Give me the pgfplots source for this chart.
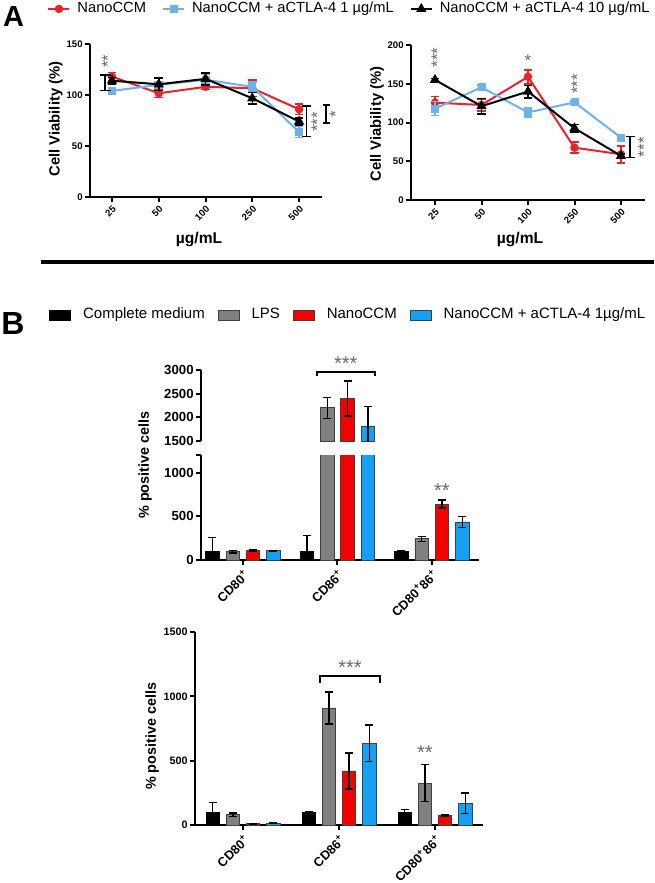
\documentclass[border=0pt]{standalone}
\usepackage{pgfplots}
\pgfplotsset{compat=1.18}
\usepackage{fontspec}
\setmainfont{Liberation Sans}
\definecolor{cred}{RGB}{232,35,42}
\definecolor{cblue}{RGB}{110,178,234}
\definecolor{bgray}{RGB}{128,128,128}
\definecolor{bred}{RGB}{245,0,0}
\definecolor{bblue}{RGB}{20,160,245}
\definecolor{stargray}{RGB}{105,105,105}
\tikzset{
  sstar/.style={stargray, inner sep=0pt, font=\fontsize{8.5}{9}\selectfont},
  bbstar/.style={stargray, inner sep=0pt, font=\fontsize{10}{10}\selectfont},
}
\pgfplotsset{
  gp/.style={
    scale only axis,
    axis x line*=bottom, axis y line*=left,
    axis line style={line width=1pt},
    tick align=outside,
    major tick length=2.5pt,
    every tick/.style={black, line width=1pt},
    /pgf/number format/assume math mode=true,
    /pgf/number format/1000 sep={},
    scaled y ticks=false,
    clip mode=individual,
  },
  pA/.style={gp,
    xtick={0,1,2,3,4}, xticklabels={25,50,100,250,500},
    tick label style={font=\fontsize{4.8}{5.5}\selectfont\bfseries},
    xticklabel style={rotate=45, anchor=north east, inner sep=1pt},
    yticklabel style={inner sep=1pt},
    error bars/y dir=both, error bars/y explicit,
    error bars/error bar style={line width=0.8pt},
    error bars/error mark options={rotate=90, mark size=2.2pt, line width=0.8pt},
    legend image code/.code={\draw[mark repeat=2, mark phase=2, line width=1pt, ##1] plot coordinates {(0pt,0pt) (5.25pt,0pt) (10.5pt,0pt)};},
  },
  pB/.style={gp,
    ybar=3.45pt, bar width=6.7pt,
    xtick={0,1,2},
    xticklabels={CD80\textsuperscript{+},CD86\textsuperscript{+},CD80\textsuperscript{+}86\textsuperscript{+}},
    xticklabel style={rotate=45, anchor=north east, inner sep=1pt, font=\fontsize{6.4}{7}\selectfont\bfseries},
    error bars/y dir=both, error bars/y explicit,
    error bars/error bar style={black, line width=0.7pt},
    error bars/error mark options={black, rotate=90, mark size=2pt, line width=0.7pt},
    legend image code/.code={\draw[##1, line width=0.4pt] (0pt,-2.5pt) rectangle (10.5pt,2.5pt);},
  },
  s1/.style={fill=black, draw=black},
  s2/.style={fill=bgray, draw=black!75},
  s3/.style={fill=bred, draw=black!75},
  s4/.style={fill=bblue, draw=black!75},
}
\begin{document}
\begin{tikzpicture}
\path[use as bounding box] (0pt,0pt) rectangle (327pt,-441.5pt);
% panel letters and separator
\node[inner sep=0pt, font=\fontsize{14.5}{15}\selectfont\bfseries] at (6.75pt,-8.5pt) {A};
\node[inner sep=0pt, font=\fontsize{16}{16}\selectfont\bfseries] at (6.5pt,-161.75pt) {B};
\draw[line width=1.75pt] (20.5pt,-131pt) -- (327pt,-131pt);

% ---------- A left
\begin{axis}[pA, at={(45pt,-98.5pt)}, anchor=south west, width=116pt, height=76.5pt,
  xmin=-0.47, xmax=4.49, ymin=0, ymax=150, ytick={0,50,100,150},
  ylabel={Cell Viability (\%)}, xlabel={µg/mL},
  every axis y label/.append style={at={(axis description cs:-0.147,0.51)}, anchor=center, font=\fontsize{7.4}{8}\selectfont\bfseries},
  every axis x label/.append style={at={(axis description cs:0.47,-0.281)}, anchor=center, font=\fontsize{7.8}{8}\selectfont\bfseries},
  legend columns=3,
  legend style={at={(axis description cs:-0.185,1.229)}, anchor=west, draw=none, fill=none,
    inner sep=0pt, font=\fontsize{7.35}{8}\selectfont, nodes={inner sep=0.5pt},
    /tikz/every odd column/.append style={column sep=3pt},
    /tikz/every even column/.append style={column sep=7.5pt}},
]
\addplot[cred, line width=1pt, mark=*, mark size=1.6pt] coordinates {
 (0,118) +- (0,4) (1,101.7) +- (0,4) (2,108) +- (0,2.5) (3,106.6) +- (0,8) (4,86) +- (0,5)};
\addlegendentry{NanoCCM}
\addplot[cblue, line width=1pt, mark=square*, mark size=1.5pt] coordinates {
 (0,104) +- (0,2) (1,110) +- (0,3) (2,115) +- (0,5) (3,108) +- (0,5) (4,63.6) +- (0,5.4)};
\addlegendentry{NanoCCM + aCTLA-4 1 µg/mL}
\addplot[black, line width=1pt, mark=triangle*, mark size=2pt] coordinates {
 (0,114) +- (0,3) (1,110.5) +- (0,6) (2,115.8) +- (0,6) (3,96.8) +- (0,5.5) (4,74) +- (0,3.3)};
\addlegendentry{NanoCCM + aCTLA-4 10 µg/mL}
\draw[line width=0.8pt] (axis cs:-0.26,119.7) -- (axis cs:-0.02,119.7) (axis cs:-0.15,119.7) -- (axis cs:-0.15,104.3) (axis cs:-0.26,104.3) -- (axis cs:-0.02,104.3);
\node[sstar, rotate=90] at (axis cs:-0.09,133) {**};
\draw[line width=0.8pt] (axis cs:4.06,89.3) -- (axis cs:4.26,89.3) (axis cs:4.16,89.3) -- (axis cs:4.16,59.3) (axis cs:4.06,59.3) -- (axis cs:4.26,59.3);
\node[sstar, rotate=90] at (axis cs:4.39,73.5) {***};
\draw[line width=0.8pt] (axis cs:4.51,90.2) -- (axis cs:4.66,90.2) (axis cs:4.58,90.2) -- (axis cs:4.58,72.5) (axis cs:4.51,72.5) -- (axis cs:4.66,72.5);
\node[sstar, rotate=90] at (axis cs:4.78,81.4) {*};
\end{axis}

% ---------- A right
\begin{axis}[pA, at={(205.5pt,-100pt)}, anchor=south west, width=117pt, height=77.5pt,
  xmin=-0.516, xmax=4.516, ymin=0, ymax=200, ytick={0,50,100,150,200},
  ylabel={Cell Viability (\%)}, xlabel={µg/mL},
  every axis y label/.append style={at={(axis description cs:-0.145,0.49)}, anchor=center, font=\fontsize{7.4}{8}\selectfont\bfseries},
  every axis x label/.append style={at={(axis description cs:0.466,-0.258)}, anchor=center, font=\fontsize{7.8}{8}\selectfont\bfseries},
]
\addplot[cred, line width=1pt, mark=*, mark size=1.6pt] coordinates {
 (0,125.6) +- (0,8) (1,122.6) +- (0,8) (2,159) +- (0,9) (3,67.5) +- (0,7) (4,59) +- (0,11)};
\addplot[cblue, line width=1pt, mark=square*, mark size=1.5pt] coordinates {
 (0,118) +- (0,9) (1,145.4) +- (0,3) (2,113) +- (0,6) (3,126) +- (0,2) (4,80.4) +- (0,2)};
\addplot[black, line width=1pt, mark=triangle*, mark size=2pt] coordinates {
 (0,155) +- (0,2) (1,121) +- (0,10) (2,140) +- (0,8) (3,92.5) +- (0,5) (4,57) +- (0,3)};
\node[sstar, rotate=90] at (axis cs:0.05,184) {***};
\node[sstar] at (axis cs:2,180) {*};
\node[sstar, rotate=90] at (axis cs:3.06,150) {***};
\draw[line width=0.8pt] (axis cs:4.1,81.7) -- (axis cs:4.3,81.7) (axis cs:4.19,81.7) -- (axis cs:4.19,55) (axis cs:4.1,55) -- (axis cs:4.3,55);
\node[sstar, rotate=90] at (axis cs:4.49,68) {***};
\end{axis}

% ---------- B top, upper segment
\begin{axis}[pB, at={(100.5pt,-220.5pt)}, anchor=south west, width=139pt, height=35.5pt,
  axis x line=none,
  xmin=-0.444, xmax=2.5, ymin=1500, ymax=3000, ytick={1500,2000,2500,3000},
  yticklabel style={font=\fontsize{6.6}{7}\selectfont\bfseries, inner sep=1pt},
]
\addplot[draw=none, fill=none, error bars/y dir=none] coordinates {(1,100)};
\addplot[s2] coordinates {(1,2200) +- (0,225)};
\addplot[s3] coordinates {(1,2400) +- (0,370)};
\addplot[s4] coordinates {(1,1812) +- (0,420)};
\draw[line width=0.7pt] (axis cs:0.783,2870) -- (axis cs:0.783,2958) -- (axis cs:1.397,2958) -- (axis cs:1.397,2870);
\node[bbstar] at (axis cs:1.09,3130) {***};
\end{axis}

% ---------- B top, lower segment
\begin{axis}[pB, at={(100.5pt,-280pt)}, anchor=south west, width=139pt, height=52.5pt,
  xmin=-0.444, xmax=2.5, ymin=0, ymax=1200, ytick={0,500,1000},
  extra y ticks={1200}, extra y tick labels={},
  yticklabel style={font=\fontsize{6.6}{7}\selectfont\bfseries, inner sep=1pt},
  ylabel={\% positive cells},
  every axis y label/.append style={at={(axis description cs:-0.201,0.905)}, anchor=center, font=\fontsize{7.2}{8}\selectfont\bfseries},
  legend columns=4,
  legend style={at={(axis description cs:-0.547,2.333)}, anchor=west, draw=none, fill=none,
    inner sep=0pt, font=\fontsize{7.5}{8}\selectfont, nodes={inner sep=0.5pt},
    /tikz/every odd column/.append style={column sep=5.5pt},
    /tikz/every even column/.append style={column sep=6pt}},
]
\addplot[s1] coordinates {(0,100) +- (0,160) (1,100) +- (0,180) (2,100) +- (0,5)};
\addlegendentry{Complete medium}
\addplot[s2] coordinates {(0,95) +- (0,15) (1,2200) +- (0,225) (2,242) +- (0,28)};
\addlegendentry{LPS}
\addplot[s3] coordinates {(0,110) +- (0,5) (1,2400) +- (0,370) (2,640) +- (0,45)};
\addlegendentry{NanoCCM}
\addplot[s4] coordinates {(0,105) +- (0,4) (1,1812) +- (0,420) (2,435) +- (0,65)};
\addlegendentry{NanoCCM + aCTLA-4 1µg/mL}
\node[bbstar] at (axis cs:2.108,790) {**};
\end{axis}

% ---------- B bottom
\begin{axis}[pB, at={(97.5pt,-412.5pt)}, anchor=south west, width=144pt, height=96.5pt,
  ybar=3.4pt,
  xmin=-0.5, xmax=2.5, ymin=0, ymax=1500, ytick={0,500,1000,1500},
  yticklabel style={font=\fontsize{5.4}{6}\selectfont\bfseries, inner sep=1pt},
  ylabel={\% positive cells},
  every axis y label/.append style={at={(axis description cs:-0.149,0.46)}, anchor=center, font=\fontsize{7.2}{8}\selectfont\bfseries},
]
\addplot[s1] coordinates {(0,100) +- (0,75) (1,100) +- (0,5) (2,100) +- (0,22)};
\addplot[s2] coordinates {(0,80) +- (0,12) (1,910) +- (0,125) (2,326) +- (0,142)};
\addplot[s3] coordinates {(0,10) +- (0,3) (1,420) +- (0,140) (2,75) +- (0,5)};
\addplot[s4] coordinates {(0,15) +- (0,4) (1,635) +- (0,143) (2,170) +- (0,80)};
\draw[line width=0.7pt] (axis cs:0.802,1100) -- (axis cs:0.802,1159) -- (axis cs:1.427,1159) -- (axis cs:1.427,1100);
\node[bbstar] at (axis cs:1.115,1220) {***};
\node[bbstar] at (axis cs:1.895,560) {**};
\end{axis}
\end{tikzpicture}
\end{document}
